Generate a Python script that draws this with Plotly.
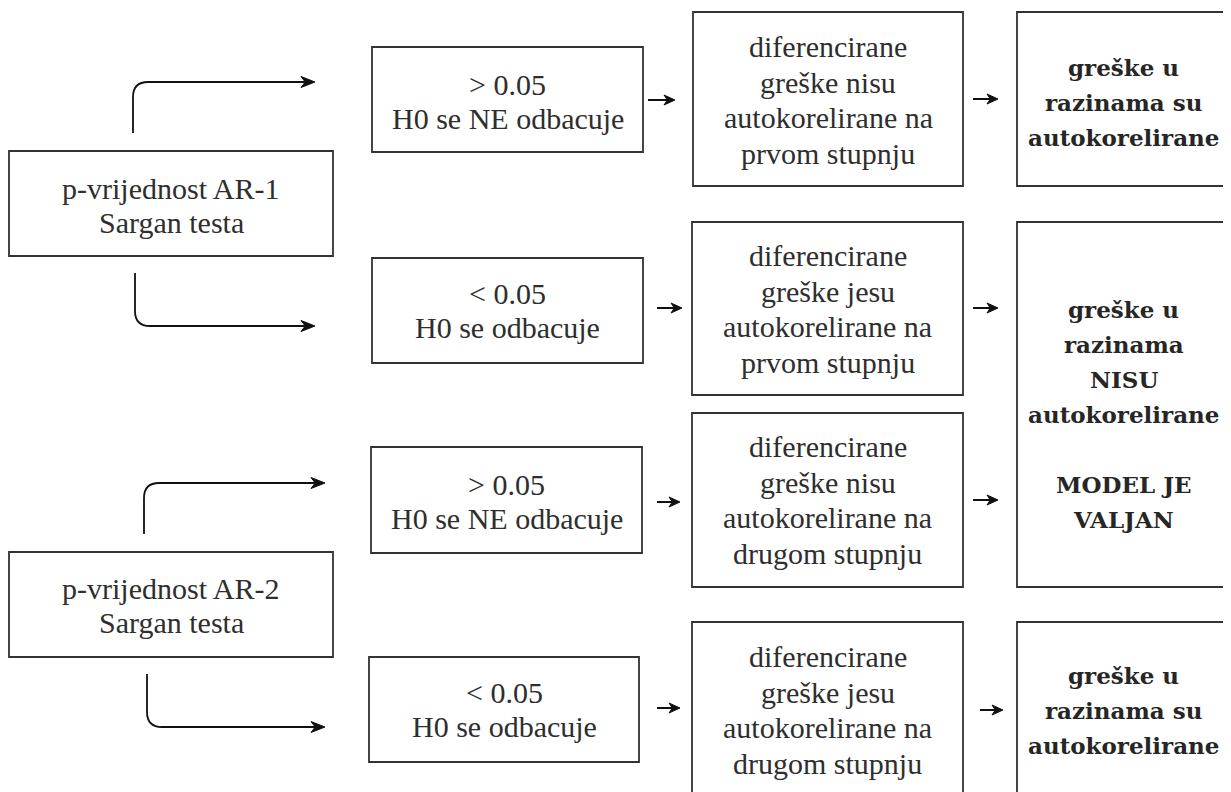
"""Flowchart of the AR-1 / AR-2 autocorrelation decision, drawn with plotly."""
import plotly.graph_objects as go

# text of each box, one entry per line
test_lines = [
    ["p-vrijednost AR-1", "Sargan testa"],
    ["p-vrijednost AR-2", "Sargan testa"],
]
decision_lines = [
    ["> 0.05", "H0 se NE odbacuje"],
    ["< 0.05", "H0 se odbacuje"],
    ["> 0.05", "H0 se NE odbacuje"],
    ["< 0.05", "H0 se odbacuje"],
]
meaning_lines = [
    ["diferencirane", "greške nisu", "autokorelirane na", "prvom stupnju"],
    ["diferencirane", "greške jesu", "autokorelirane na", "prvom stupnju"],
    ["diferencirane", "greške nisu", "autokorelirane na", "drugom stupnju"],
    ["diferencirane", "greške jesu", "autokorelirane na", "drugom stupnju"],
]
conclusion_lines = [
    ["greške u", "razinama su", "autokorelirane"],
    ["greške u", "razinama", "NISU", "autokorelirane", "", "MODEL JE", "VALJAN"],
    ["greške u", "razinama su", "autokorelirane"],
]

W, H = 1231, 792
PAGE_MARGIN = 8  # default body margin of the html page
BOX_LINE = dict(color="#333333", width=1.8)
ARROW_COLOUR = "#111111"
TEXT_COLOUR = "#2e2e2e"

# box geometry (x0, y0, x1, y1, centre of text block) in page pixels
test_boxes = [(9, 151, 333, 256, 205), (9, 552, 333, 657, 605)]
decision_boxes = [
    (372, 47, 643, 152, 101),
    (372, 258, 643, 363, 310),
    (371, 447, 642, 553, 501),
    (369, 657, 639, 762, 709),
]
meaning_boxes = [
    (693, 12, 963, 186, 100),
    (692, 222, 963, 395, 309),
    (692, 413, 963, 587, 500),
    (692, 622, 963, 810, 710),
]
conclusion_boxes = [
    (1017, 12, 1230, 186, 102),
    (1017, 222, 1230, 587, 414),
    (1017, 622, 1230, 810, 710),
]

# elbow arrows: (x of stem, stem start y, turn y, tip x)
elbow_arrows = [
    (133, 133, 82, 315),
    (135, 273, 326, 315),
    (144, 534, 483, 325),
    (147, 674, 727, 325),
]
# short straight arrows: (x start, x tip, y)
short_arrows = [
    (648, 675, 100),
    (657, 682, 308),
    (657, 680, 502),
    (657, 680, 708),
    (973, 998, 99),
    (973, 998, 308),
    (973, 998, 500),
    (980, 1003, 710),
]

fig = go.Figure()


def add_box(box, lines, spacing, font):
    x0, y0, x1, y1, yc = box
    fig.add_shape(type="rect", x0=x0, y0=y0, x1=x1, y1=y1,
                  line=BOX_LINE, fillcolor="white", layer="below")
    n = len(lines)
    for i, text in enumerate(lines):
        if not text:
            continue
        fig.add_annotation(
            x=(x0 + x1) / 2,
            y=yc + (i - (n - 1) / 2) * spacing,
            text=text,
            showarrow=False,
            xanchor="center",
            yanchor="middle",
            font=font,
        )


def add_head(x_tip, y, length, half):
    fig.add_shape(
        type="path",
        path=f"M {x_tip},{y} L {x_tip - length},{y - half} "
             f"L {x_tip - length * 0.7},{y} L {x_tip - length},{y + half} Z",
        line=dict(color=ARROW_COLOUR, width=1),
        fillcolor=ARROW_COLOUR,
    )


regular = dict(family="Liberation Serif", size=30, color=TEXT_COLOUR)
bold = dict(family="DejaVu Serif", size=23, color="#262626", weight="bold")

for box, lines in zip(test_boxes, test_lines):
    add_box(box, lines, 34, regular)
for box, lines in zip(decision_boxes, decision_lines):
    add_box(box, lines, 34, regular)
for box, lines in zip(meaning_boxes, meaning_lines):
    add_box(box, lines, 35.5, regular)
for box, lines in zip(conclusion_boxes, conclusion_lines):
    add_box(box, lines, 35, bold)

r = 15
for x, y_start, y_turn, x_tip in elbow_arrows:
    sign = -1 if y_turn < y_start else 1
    path = (
        f"M {x},{y_start} L {x},{y_turn - sign * r} "
        f"Q {x},{y_turn} {x + r},{y_turn} L {x_tip - 8},{y_turn}"
    )
    fig.add_shape(type="path", path=path, line=dict(color=ARROW_COLOUR, width=1.8))
    add_head(x_tip, y_turn, 14, 5.5)

for x_start, x_tip, y in short_arrows:
    fig.add_shape(type="line", x0=x_start, y0=y, x1=x_tip - 5, y1=y,
                  line=dict(color=ARROW_COLOUR, width=2))
    add_head(x_tip, y, 11, 5)

# the plot sits PAGE_MARGIN px inside the page, so shift the ranges to
# keep page pixels and data units the same
fig.update_layout(
    width=W,
    height=H,
    margin=dict(l=0, r=0, t=0, b=0),
    paper_bgcolor="white",
    plot_bgcolor="white",
    showlegend=False,
    xaxis=dict(range=[PAGE_MARGIN, W + PAGE_MARGIN], visible=False, fixedrange=True),
    yaxis=dict(range=[H + PAGE_MARGIN, PAGE_MARGIN], visible=False, fixedrange=True),
)

fig.write_html("out.html")
